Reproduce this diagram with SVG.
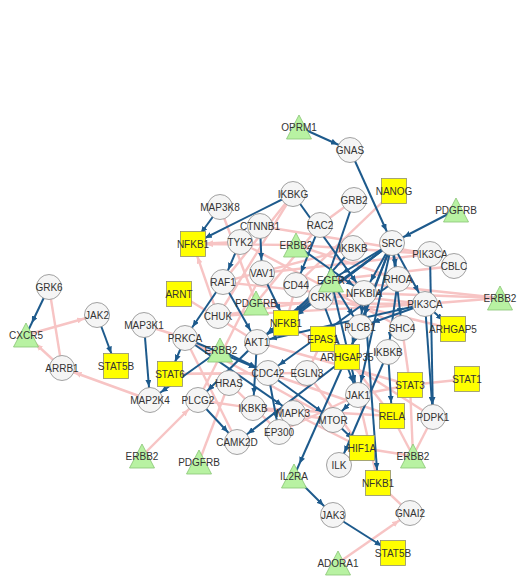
<svg xmlns="http://www.w3.org/2000/svg" width="522" height="577" viewBox="0 0 522 577">
<style>
.p{stroke:#f7c4c4;stroke-width:2.4;fill:none}
.pa{stroke:#f7c4c4;stroke-width:2.4;fill:none;marker-end:url(#pa)}
.b{stroke:#1d5a8c;stroke-width:2;fill:none;marker-end:url(#ba)}
.c{fill:#f5f5f5;stroke:#8a8a8a;stroke-width:0.8}
.s{fill:#ffff00;stroke:#8f8f70;stroke-width:0.8}
.t{fill:#b8f2a2;stroke:#88c474;stroke-width:0.8}
text{font-family:"Liberation Sans",Arial,Helvetica,sans-serif;font-size:10px;fill:#333;text-anchor:middle}
</style>
<defs>
<marker id="ba" viewBox="0 0 10 10" refX="29" refY="5" markerWidth="7" markerHeight="6" markerUnits="userSpaceOnUse" orient="auto" preserveAspectRatio="none"><path d="M0,0 L10,5 L0,10 z" fill="#1d5a8c"/></marker>
<marker id="pa" viewBox="0 0 10 10" refX="29" refY="5" markerWidth="7" markerHeight="6" markerUnits="userSpaceOnUse" orient="auto" preserveAspectRatio="none"><path d="M0,0 L10,5 L0,10 z" fill="#f7c4c4"/></marker>
</defs>
<rect width="522" height="577" fill="#fff"/>
<g id="connectors">
<line class="pa" x1="26" y1="335" x2="97" y2="315"/>
<line class="pa" x1="62" y1="368" x2="26" y2="335"/>
<line class="p" x1="49" y1="287" x2="62" y2="368"/>
<line class="pa" x1="150" y1="400" x2="62" y2="368"/>
<line class="p" x1="144" y1="325" x2="185" y2="338"/>
<line class="pa" x1="142" y1="456" x2="198" y2="400"/>
<line class="p" x1="199" y1="462" x2="229" y2="383"/>
<line class="p" x1="179" y1="294" x2="257" y2="342"/>
<line class="pa" x1="218" y1="316" x2="193" y2="244"/>
<line class="pa" x1="240" y1="242" x2="193" y2="244"/>
<line class="pa" x1="296" y1="245" x2="193" y2="244"/>
<line class="p" x1="220" y1="207" x2="256" y2="303"/>
<line class="p" x1="394" y1="191" x2="296" y2="285"/>
<line class="p" x1="354" y1="200" x2="320" y2="225"/>
<line class="p" x1="293" y1="194" x2="218" y2="316"/>
<line class="p" x1="500" y1="298" x2="364" y2="293"/>
<line class="p" x1="500" y1="298" x2="425" y2="304"/>
<line class="p" x1="500" y1="298" x2="331" y2="280"/>
<line class="p" x1="430" y1="254" x2="262" y2="273"/>
<line class="p" x1="430" y1="254" x2="296" y2="245"/>
<line class="p" x1="454" y1="266" x2="331" y2="280"/>
<line class="p" x1="410" y1="385" x2="467" y2="379"/>
<line class="p" x1="410" y1="385" x2="358" y2="395"/>
<line class="p" x1="392" y1="416" x2="413" y2="456"/>
<line class="p" x1="410" y1="385" x2="413" y2="456"/>
<line class="p" x1="433" y1="417" x2="413" y2="456"/>
<line class="p" x1="362" y1="448" x2="413" y2="456"/>
<line class="p" x1="378" y1="483" x2="410" y2="513"/>
<line class="pa" x1="338" y1="563" x2="410" y2="513"/>
<line class="p" x1="257" y1="342" x2="410" y2="385"/>
<line class="p" x1="268" y1="373" x2="392" y2="416"/>
<line class="p" x1="229" y1="383" x2="279" y2="432"/>
<line class="p" x1="185" y1="338" x2="333" y2="420"/>
<line class="p" x1="307" y1="373" x2="362" y2="448"/>
<line class="p" x1="323" y1="339" x2="307" y2="373"/>
<line class="p" x1="293" y1="413" x2="362" y2="448"/>
<line class="p" x1="260" y1="226" x2="430" y2="254"/>
<line class="p" x1="223" y1="282" x2="425" y2="304"/>
<line class="p" x1="256" y1="303" x2="425" y2="304"/>
<line class="p" x1="279" y1="432" x2="358" y2="395"/>
<line class="p" x1="223" y1="282" x2="293" y2="194"/>
<line class="p" x1="296" y1="285" x2="286" y2="323"/>
<line class="p" x1="170" y1="374" x2="268" y2="373"/>
<line class="p" x1="170" y1="374" x2="307" y2="373"/>
<line class="p" x1="198" y1="400" x2="333" y2="420"/>
<line class="p" x1="218" y1="316" x2="425" y2="304"/>
<line class="p" x1="347" y1="357" x2="392" y2="416"/>
<line class="p" x1="402" y1="328" x2="410" y2="385"/>
<line class="p" x1="253" y1="408" x2="392" y2="416"/>
<line class="p" x1="240" y1="242" x2="402" y2="328"/>
<line class="p" x1="262" y1="273" x2="198" y2="400"/>
<line class="p" x1="185" y1="338" x2="237" y2="442"/>
<line class="p" x1="320" y1="225" x2="256" y2="303"/>
<line class="p" x1="296" y1="245" x2="398" y2="279"/>
<line class="p" x1="353" y1="248" x2="223" y2="282"/>
<line class="p" x1="364" y1="293" x2="218" y2="316"/>
<line class="p" x1="321" y1="297" x2="453" y2="329"/>
<line class="p" x1="286" y1="323" x2="433" y2="417"/>
<line class="p" x1="339" y1="465" x2="362" y2="448"/>
<line class="p" x1="378" y1="483" x2="358" y2="395"/>
<line class="b" x1="299" y1="127" x2="350" y2="150"/>
<line class="b" x1="350" y1="150" x2="392" y2="243"/>
<line class="b" x1="456" y1="210" x2="392" y2="243"/>
<line class="b" x1="220" y1="207" x2="193" y2="244"/>
<line class="b" x1="293" y1="194" x2="193" y2="244"/>
<line class="b" x1="293" y1="194" x2="364" y2="293"/>
<line class="b" x1="354" y1="200" x2="321" y2="297"/>
<line class="b" x1="260" y1="226" x2="262" y2="273"/>
<line class="b" x1="262" y1="273" x2="286" y2="323"/>
<line class="b" x1="240" y1="242" x2="223" y2="282"/>
<line class="b" x1="223" y1="282" x2="257" y2="342"/>
<line class="b" x1="223" y1="282" x2="185" y2="338"/>
<line class="b" x1="97" y1="315" x2="116" y2="366"/>
<line class="b" x1="49" y1="287" x2="26" y2="335"/>
<line class="b" x1="144" y1="325" x2="150" y2="400"/>
<line class="b" x1="220" y1="350" x2="150" y2="400"/>
<line class="b" x1="185" y1="338" x2="170" y2="374"/>
<line class="b" x1="185" y1="338" x2="268" y2="373"/>
<line class="b" x1="185" y1="338" x2="293" y2="413"/>
<line class="b" x1="257" y1="342" x2="198" y2="400"/>
<line class="b" x1="198" y1="400" x2="237" y2="442"/>
<line class="b" x1="347" y1="357" x2="237" y2="442"/>
<line class="b" x1="257" y1="342" x2="253" y2="408"/>
<line class="b" x1="268" y1="373" x2="279" y2="432"/>
<line class="b" x1="392" y1="243" x2="331" y2="280"/>
<line class="b" x1="392" y1="243" x2="364" y2="293"/>
<line class="b" x1="392" y1="243" x2="360" y2="327"/>
<line class="b" x1="392" y1="243" x2="398" y2="279"/>
<line class="b" x1="392" y1="243" x2="321" y2="297"/>
<line class="b" x1="392" y1="243" x2="402" y2="328"/>
<line class="b" x1="392" y1="243" x2="425" y2="304"/>
<line class="b" x1="392" y1="243" x2="257" y2="342"/>
<line class="b" x1="392" y1="243" x2="286" y2="323"/>
<line class="b" x1="392" y1="243" x2="358" y2="395"/>
<line class="b" x1="392" y1="243" x2="347" y2="357"/>
<line class="b" x1="430" y1="254" x2="433" y2="417"/>
<line class="b" x1="425" y1="304" x2="433" y2="417"/>
<line class="b" x1="425" y1="304" x2="453" y2="329"/>
<line class="b" x1="364" y1="293" x2="378" y2="483"/>
<line class="b" x1="364" y1="293" x2="360" y2="327"/>
<line class="b" x1="388" y1="352" x2="392" y2="416"/>
<line class="b" x1="333" y1="420" x2="362" y2="448"/>
<line class="b" x1="388" y1="352" x2="339" y2="465"/>
<line class="b" x1="360" y1="327" x2="294" y2="476"/>
<line class="b" x1="294" y1="476" x2="333" y2="515"/>
<line class="b" x1="333" y1="515" x2="393" y2="553"/>
<line class="b" x1="331" y1="280" x2="286" y2="323"/>
<line class="b" x1="331" y1="280" x2="360" y2="327"/>
<line class="b" x1="296" y1="245" x2="364" y2="293"/>
<line class="b" x1="358" y1="395" x2="333" y2="420"/>
<line class="b" x1="321" y1="297" x2="358" y2="395"/>
<line class="b" x1="331" y1="280" x2="257" y2="342"/>
<line class="b" x1="425" y1="304" x2="257" y2="342"/>
<line class="b" x1="398" y1="279" x2="268" y2="373"/>
<line class="b" x1="353" y1="248" x2="286" y2="323"/>
<line class="b" x1="320" y1="225" x2="296" y2="285"/>
<line class="b" x1="331" y1="280" x2="358" y2="395"/>
<line class="b" x1="268" y1="373" x2="333" y2="420"/>
<line class="b" x1="220" y1="350" x2="268" y2="373"/>
<line class="b" x1="398" y1="279" x2="388" y2="352"/>
<line class="b" x1="425" y1="304" x2="360" y2="327"/>
</g>
<g id="n-GNAS"><circle class="c" cx="350" cy="150" r="12.5"/><text x="350" y="153.5">GNAS</text></g>
<g id="n-GRB2"><circle class="c" cx="354" cy="200" r="12.5"/><text x="354" y="203.5">GRB2</text></g>
<g id="n-IKBKG"><circle class="c" cx="293" cy="194" r="12.5"/><text x="293" y="197.5">IKBKG</text></g>
<g id="n-MAP3K8"><circle class="c" cx="220" cy="207" r="12.5"/><text x="220" y="210.5">MAP3K8</text></g>
<g id="n-RAC2"><circle class="c" cx="320" cy="225" r="12.5"/><text x="320" y="228.5">RAC2</text></g>
<g id="n-CTNNB1"><circle class="c" cx="260" cy="226" r="12.5"/><text x="260" y="229.5">CTNNB1</text></g>
<g id="n-TYK2"><circle class="c" cx="240" cy="242" r="12.5"/><text x="240" y="245.5">TYK2</text></g>
<g id="n-SRC"><circle class="c" cx="392" cy="243" r="12.5"/><text x="392" y="246.5">SRC</text></g>
<g id="n-IKBKB1"><circle class="c" cx="353" cy="248" r="12.5"/><text x="353" y="251.5">IKBKB</text></g>
<g id="n-PIK3CA1"><circle class="c" cx="430" cy="254" r="12.5"/><text x="430" y="257.5">PIK3CA</text></g>
<g id="n-CBLC"><circle class="c" cx="454" cy="266" r="12.5"/><text x="454" y="269.5">CBLC</text></g>
<g id="n-VAV1"><circle class="c" cx="262" cy="273" r="12.5"/><text x="262" y="276.5">VAV1</text></g>
<g id="n-RAF1"><circle class="c" cx="223" cy="282" r="12.5"/><text x="223" y="285.5">RAF1</text></g>
<g id="n-CD44"><circle class="c" cx="296" cy="285" r="12.5"/><text x="296" y="288.5">CD44</text></g>
<g id="n-RHOA"><circle class="c" cx="398" cy="279" r="12.5"/><text x="398" y="282.5">RHOA</text></g>
<g id="n-NFKBIA"><circle class="c" cx="364" cy="293" r="12.5"/><text x="364" y="296.5">NFKBIA</text></g>
<g id="n-CRK"><circle class="c" cx="321" cy="297" r="12.5"/><text x="321" y="300.5">CRK</text></g>
<g id="n-PIK3CA2"><circle class="c" cx="425" cy="304" r="12.5"/><text x="425" y="307.5">PIK3CA</text></g>
<g id="n-GRK6"><circle class="c" cx="49" cy="287" r="12.5"/><text x="49" y="290.5">GRK6</text></g>
<g id="n-JAK2"><circle class="c" cx="97" cy="315" r="12.5"/><text x="97" y="318.5">JAK2</text></g>
<g id="n-CHUK"><circle class="c" cx="218" cy="316" r="12.5"/><text x="218" y="319.5">CHUK</text></g>
<g id="n-MAP3K1"><circle class="c" cx="144" cy="325" r="12.5"/><text x="144" y="328.5">MAP3K1</text></g>
<g id="n-PRKCA"><circle class="c" cx="185" cy="338" r="12.5"/><text x="185" y="341.5">PRKCA</text></g>
<g id="n-PLCB1"><circle class="c" cx="360" cy="327" r="12.5"/><text x="360" y="330.5">PLCB1</text></g>
<g id="n-SHC4"><circle class="c" cx="402" cy="328" r="12.5"/><text x="402" y="331.5">SHC4</text></g>
<g id="n-AKT1"><circle class="c" cx="257" cy="342" r="12.5"/><text x="257" y="345.5">AKT1</text></g>
<g id="n-IKBKB2"><circle class="c" cx="388" cy="352" r="12.5"/><text x="388" y="355.5">IKBKB</text></g>
<g id="n-ARRB1"><circle class="c" cx="62" cy="368" r="12.5"/><text x="62" y="371.5">ARRB1</text></g>
<g id="n-CDC42"><circle class="c" cx="268" cy="373" r="12.5"/><text x="268" y="376.5">CDC42</text></g>
<g id="n-EGLN3"><circle class="c" cx="307" cy="373" r="12.5"/><text x="307" y="376.5">EGLN3</text></g>
<g id="n-HRAS"><circle class="c" cx="229" cy="383" r="12.5"/><text x="229" y="386.5">HRAS</text></g>
<g id="n-JAK1"><circle class="c" cx="358" cy="395" r="12.5"/><text x="358" y="398.5">JAK1</text></g>
<g id="n-MAP2K4"><circle class="c" cx="150" cy="400" r="12.5"/><text x="150" y="403.5">MAP2K4</text></g>
<g id="n-PLCG2"><circle class="c" cx="198" cy="400" r="12.5"/><text x="198" y="403.5">PLCG2</text></g>
<g id="n-IKBKB3"><circle class="c" cx="253" cy="408" r="12.5"/><text x="253" y="411.5">IKBKB</text></g>
<g id="n-MAPK3"><circle class="c" cx="293" cy="413" r="12.5"/><text x="293" y="416.5">MAPK3</text></g>
<g id="n-MTOR"><circle class="c" cx="333" cy="420" r="12.5"/><text x="333" y="423.5">MTOR</text></g>
<g id="n-PDPK1"><circle class="c" cx="433" cy="417" r="12.5"/><text x="433" y="420.5">PDPK1</text></g>
<g id="n-EP300"><circle class="c" cx="279" cy="432" r="12.5"/><text x="279" y="435.5">EP300</text></g>
<g id="n-CAMK2D"><circle class="c" cx="237" cy="442" r="12.5"/><text x="237" y="445.5">CAMK2D</text></g>
<g id="n-ILK"><circle class="c" cx="339" cy="465" r="12.5"/><text x="339" y="468.5">ILK</text></g>
<g id="n-JAK3"><circle class="c" cx="333" cy="515" r="12.5"/><text x="333" y="518.5">JAK3</text></g>
<g id="n-GNAI2"><circle class="c" cx="410" cy="513" r="12.5"/><text x="410" y="516.5">GNAI2</text></g>
<g id="n-NANOG"><rect class="s" x="381.5" y="178.5" width="25" height="25"/><text x="394" y="194.5">NANOG</text></g>
<g id="n-NFKB1a"><rect class="s" x="180.5" y="231.5" width="25" height="25"/><text x="193" y="247.5">NFKB1</text></g>
<g id="n-ARNT"><rect class="s" x="166.5" y="281.5" width="25" height="25"/><text x="179" y="297.5">ARNT</text></g>
<g id="n-NFKB1b"><rect class="s" x="273.5" y="310.5" width="25" height="25"/><text x="286" y="326.5">NFKB1</text></g>
<g id="n-EPAS1"><rect class="s" x="310.5" y="326.5" width="25" height="25"/><text x="323" y="342.5">EPAS1</text></g>
<g id="n-ARHGAP5"><rect class="s" x="440.5" y="316.5" width="25" height="25"/><text x="453" y="332.5">ARHGAP5</text></g>
<g id="n-ARHGAP35"><rect class="s" x="334.5" y="344.5" width="25" height="25"/><text x="347" y="360.5">ARHGAP35</text></g>
<g id="n-STAT5Ba"><rect class="s" x="103.5" y="353.5" width="25" height="25"/><text x="116" y="369.5">STAT5B</text></g>
<g id="n-STAT6"><rect class="s" x="157.5" y="361.5" width="25" height="25"/><text x="170" y="377.5">STAT6</text></g>
<g id="n-STAT3"><rect class="s" x="397.5" y="372.5" width="25" height="25"/><text x="410" y="388.5">STAT3</text></g>
<g id="n-STAT1"><rect class="s" x="454.5" y="366.5" width="25" height="25"/><text x="467" y="382.5">STAT1</text></g>
<g id="n-RELA"><rect class="s" x="379.5" y="403.5" width="25" height="25"/><text x="392" y="419.5">RELA</text></g>
<g id="n-HIF1A"><rect class="s" x="349.5" y="435.5" width="25" height="25"/><text x="362" y="451.5">HIF1A</text></g>
<g id="n-NFKB1c"><rect class="s" x="365.5" y="470.5" width="25" height="25"/><text x="378" y="486.5">NFKB1</text></g>
<g id="n-STAT5Bb"><rect class="s" x="380.5" y="540.5" width="25" height="25"/><text x="393" y="556.5">STAT5B</text></g>
<g id="n-OPRM1"><polygon class="t" points="299,115 286.5,139 311.5,139"/><text x="299" y="130.5">OPRM1</text></g>
<g id="n-PDGFRBa"><polygon class="t" points="456,198 443.5,222 468.5,222"/><text x="456" y="213.5">PDGFRB</text></g>
<g id="n-ERBB2a"><polygon class="t" points="296,233 283.5,257 308.5,257"/><text x="296" y="248.5">ERBB2</text></g>
<g id="n-EGFR"><polygon class="t" points="331,268 318.5,292 343.5,292"/><text x="331" y="283.5">EGFR</text></g>
<g id="n-ERBB2b"><polygon class="t" points="500,286 487.5,310 512.5,310"/><text x="500" y="301.5">ERBB2</text></g>
<g id="n-CXCR5"><polygon class="t" points="26,323 13.5,347 38.5,347"/><text x="26" y="338.5">CXCR5</text></g>
<g id="n-PDGFRBb"><polygon class="t" points="256,291 243.5,315 268.5,315"/><text x="256" y="306.5">PDGFRB</text></g>
<g id="n-ERBB2c"><polygon class="t" points="220,338 207.5,362 232.5,362"/><text x="221" y="353.5">ERBB2</text></g>
<g id="n-ERBB2d"><polygon class="t" points="142,444 129.5,468 154.5,468"/><text x="142" y="459.5">ERBB2</text></g>
<g id="n-PDGFRBc"><polygon class="t" points="199,450 186.5,474 211.5,474"/><text x="199" y="465.5">PDGFRB</text></g>
<g id="n-ERBB2e"><polygon class="t" points="413,444 400.5,468 425.5,468"/><text x="413" y="459.5">ERBB2</text></g>
<g id="n-IL2RA"><polygon class="t" points="294,464 281.5,488 306.5,488"/><text x="294" y="479.5">IL2RA</text></g>
<g id="n-ADORA1"><polygon class="t" points="338,551 325.5,575 350.5,575"/><text x="338" y="566.5">ADORA1</text></g>
</svg>
